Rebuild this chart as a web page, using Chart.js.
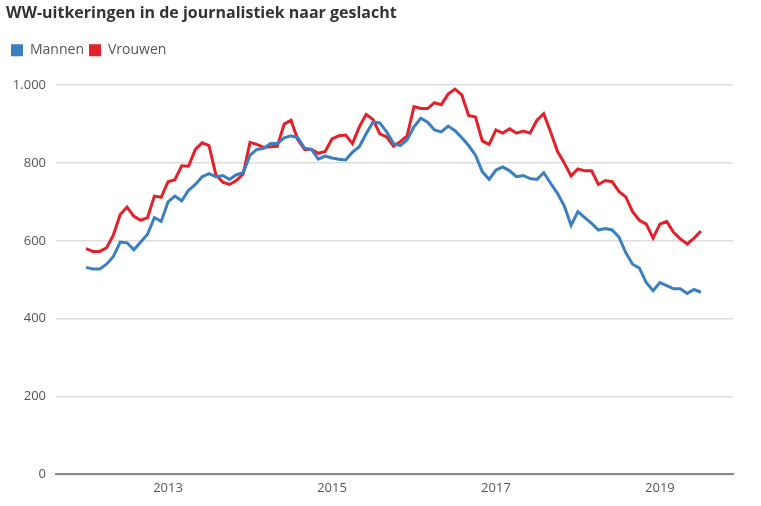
<!DOCTYPE html>
<html>
<head>
<meta charset="utf-8">
<script src="https://cdn.jsdelivr.net/npm/chart.js@4.4.1/dist/chart.umd.min.js"></script>
<style>
  body { margin: 0; background: #fff; }
  #wrap { width: 761px; height: 506px; position: relative; }
</style>
</head>
<body>
<div id="wrap"><canvas id="myChart"></canvas></div>
<script>
// months from jan 2012 to jul 2019
let startYear = 2012;
let tickYears = [2013, 2015, 2017, 2019];

let mannen = [532, 528, 528, 540, 560, 597, 595, 577, 597, 617, 660, 650,
  700, 715, 703, 730, 745, 765, 773, 765, 768, 758, 770, 775,
  820, 835, 838, 850, 850, 865, 870, 865, 838, 835, 810, 818,
  813, 810, 808, 828, 842, 875, 905, 903, 880, 850, 845, 860,
  893, 915, 905, 885, 880, 895, 883, 865, 845, 820, 778, 758,
  782, 790, 780, 765, 768, 760, 758, 775, 748, 722, 690, 640,
  675, 660, 645, 628, 632, 628, 610, 570, 540, 530, 493, 472,
  493, 485, 477, 477, 465, 475, 468];

let vrouwen = [580, 573, 573, 582, 615, 668, 687, 663, 653, 660, 715, 712,
  752, 757, 793, 792, 835, 852, 845, 770, 751, 745, 755, 772,
  853, 848, 840, 842, 843, 900, 910, 860, 835, 835, 825, 830,
  862, 870, 872, 850, 893, 925, 912, 875, 867, 843, 855, 870,
  945, 940, 940, 955, 950, 977, 990, 975, 922, 918, 857, 848,
  885, 877, 888, 877, 882, 877, 910, 927, 880, 830, 800, 767,
  785, 780, 780, 745, 755, 752, 727, 713, 675, 653, 643, 607,
  643, 650, 622, 605, 592, 607, 625];

let toPoints = (arr) => arr.map((v, i) => ({ x: i, y: v }));

let fontFam = "'Open Sans', 'Noto Sans', sans-serif";

// extra room under the legend
let legendGap = {
  id: "legendGap",
  beforeInit(chart) {
    let fit = chart.legend.fit;
    chart.legend.fit = function () {
      fit.bind(chart.legend)();
      this.height += 18;
    };
  }
};

new Chart("myChart", {
  type: "line",
  data: {
    datasets: [
      {
        label: "Mannen",
        data: toPoints(mannen),
        borderColor: "#3b7fc0",
        backgroundColor: "#3b7fc0",
        borderWidth: 3,
        pointRadius: 0,
        tension: 0
      },
      {
        label: "Vrouwen",
        data: toPoints(vrouwen),
        borderColor: "#e2212b",
        backgroundColor: "#e2212b",
        borderWidth: 3,
        pointRadius: 0,
        tension: 0
      }
    ]
  },
  options: {
    responsive: true,
    maintainAspectRatio: false,
    animation: false,
    layout: { padding: { left: 6, right: 28, top: 4, bottom: 4 } },
    plugins: {
      title: {
        display: true,
        text: "WW-uitkeringen in de journalistiek naar geslacht",
        align: "start",
        color: "#333",
        font: { family: fontFam, size: 16, weight: "bold" },
        padding: { top: 0, bottom: 15 }
      },
      legend: {
        align: "start",
        labels: {
          boxWidth: 12,
          boxHeight: 12,
          color: "#555",
          font: { family: fontFam, size: 14 },
          padding: 5,
          generateLabels: (chart) => chart.data.datasets.map((d, i) => ({
            text: d.label,
            fillStyle: d.borderColor,
            strokeStyle: d.borderColor,
            lineWidth: 0,
            fontColor: "#555",
            datasetIndex: i
          }))
        }
      },
      tooltip: { enabled: false }
    },
    scales: {
      x: {
        type: "linear",
        min: -4.4,
        max: 94.7,
        afterBuildTicks: (axis) => {
          axis.ticks = tickYears.map(y => ({ value: (y - startYear) * 12 }));
        },
        ticks: {
          color: "#555",
          font: { family: fontFam, size: 13 },
          callback: (v) => startYear + v / 12,
          maxRotation: 0,
          padding: 6
        },
        grid: { display: false, drawTicks: false },
        border: { display: true, color: "#888", width: 2 }
      },
      y: {
        min: 0,
        max: 1000,
        afterFit: (axis) => { axis.width = 50; },
        ticks: {
          stepSize: 200,
          color: "#555",
          font: { family: fontFam, size: 13 },
          padding: 10,
          callback: (v) => v.toLocaleString("nl-NL")
        },
        grid: { color: "#dddddd", lineWidth: 1.5, drawTicks: false },
        border: { display: false }
      }
    }
  },
  plugins: [legendGap]
});
</script>
</body>
</html>
